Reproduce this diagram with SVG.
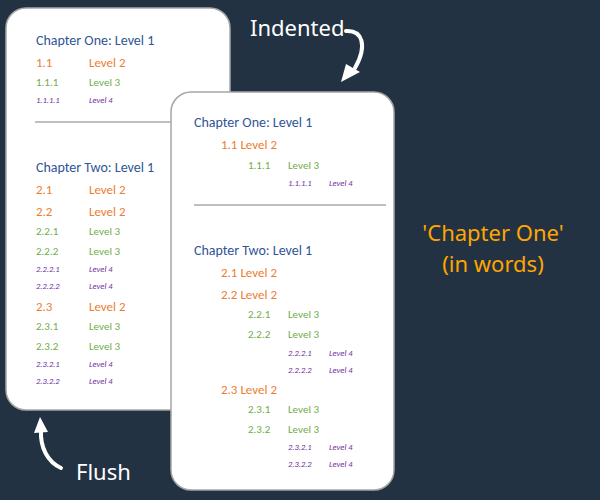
<svg xmlns="http://www.w3.org/2000/svg" width="600" height="500" viewBox="0 0 600 500">
<style>
text{font-family:Calibri,"Open Sans","Liberation Sans",sans-serif}
.b{fill:#2f5597;font-size:14px}
.o{fill:#ed7d31;font-size:13px}
.g{fill:#70ad47;font-size:11px}
.p{fill:#7030a0;font-size:8.5px;font-style:italic}
.card{fill:#fff;stroke:#a6a6a6;stroke-width:1.5}
.hw{fill:#fff;font-family:"Comic Sans MS","Noto Sans",sans-serif;font-size:22px}
.hy{fill:#ffa500;font-family:"Comic Sans MS","Noto Sans",sans-serif;font-size:22px}
.arr{fill:none;stroke:#fff;stroke-width:4;stroke-linecap:round}
</style>
<rect width="600" height="500" fill="#223243"/>
<g id="flush">
<rect class="card" x="6" y="8" width="224" height="402" rx="20"/>
<text class="b" x="36" y="45">Chapter One:   Level 1</text>
<text class="o" x="36" y="67">1.1</text><text class="o" x="89" y="67">Level 2</text>
<text class="g" x="36" y="86">1.1.1</text><text class="g" x="89" y="86">Level 3</text>
<text class="p" x="36" y="103">1.1.1.1</text><text class="p" x="89" y="103">Level 4</text>
<line x1="35" y1="122" x2="200" y2="122" stroke="#808080"/>
<text class="b" x="36" y="172">Chapter Two:   Level 1</text>
<text class="o" x="36" y="194">2.1</text><text class="o" x="89" y="194">Level 2</text>
<text class="o" x="36" y="216">2.2</text><text class="o" x="89" y="216">Level 2</text>
<text class="g" x="36" y="235">2.2.1</text><text class="g" x="89" y="235">Level 3</text>
<text class="g" x="36" y="255">2.2.2</text><text class="g" x="89" y="255">Level 3</text>
<text class="p" x="36" y="272">2.2.2.1</text><text class="p" x="89" y="272">Level 4</text>
<text class="p" x="36" y="289">2.2.2.2</text><text class="p" x="89" y="289">Level 4</text>
<text class="o" x="36" y="311">2.3</text><text class="o" x="89" y="311">Level 2</text>
<text class="g" x="36" y="330">2.3.1</text><text class="g" x="89" y="330">Level 3</text>
<text class="g" x="36" y="350">2.3.2</text><text class="g" x="89" y="350">Level 3</text>
<text class="p" x="36" y="367">2.3.2.1</text><text class="p" x="89" y="367">Level 4</text>
<text class="p" x="36" y="384">2.3.2.2</text><text class="p" x="89" y="384">Level 4</text>
</g>
<g id="indented">
<rect class="card" x="171" y="92" width="223" height="398" rx="20"/>
<text class="b" x="194" y="127">Chapter One:   Level 1</text>
<text class="o" x="221" y="149">1.1  Level 2</text>
<text class="g" x="248" y="169">1.1.1</text><text class="g" x="288" y="169">Level 3</text>
<text class="p" x="288" y="186">1.1.1.1</text><text class="p" x="329" y="186">Level 4</text>
<line x1="194" y1="205" x2="386" y2="205" stroke="#808080"/>
<text class="b" x="194" y="255">Chapter Two:   Level 1</text>
<text class="o" x="221" y="277">2.1  Level 2</text>
<text class="o" x="221" y="299">2.2  Level 2</text>
<text class="g" x="248" y="318">2.2.1</text><text class="g" x="288" y="318">Level 3</text>
<text class="g" x="248" y="338">2.2.2</text><text class="g" x="288" y="338">Level 3</text>
<text class="p" x="288" y="356">2.2.2.1</text><text class="p" x="329" y="356">Level 4</text>
<text class="p" x="288" y="373">2.2.2.2</text><text class="p" x="329" y="373">Level 4</text>
<text class="o" x="221" y="394">2.3  Level 2</text>
<text class="g" x="248" y="413">2.3.1</text><text class="g" x="288" y="413">Level 3</text>
<text class="g" x="248" y="433">2.3.2</text><text class="g" x="288" y="433">Level 3</text>
<text class="p" x="288" y="450">2.3.2.1</text><text class="p" x="329" y="450">Level 4</text>
<text class="p" x="288" y="467">2.3.2.2</text><text class="p" x="329" y="467">Level 4</text>
</g>
<g id="labels">
<text class="hw" x="250" y="36">Indented</text>
<text class="hw" x="76" y="480">Flush</text>
<text class="hy" x="493" y="241" text-anchor="middle">'Chapter One'</text>
<text class="hy" x="493" y="272" text-anchor="middle">(in words)</text>
</g>
<g id="connectors">
<path class="arr" d="M346 31 C362 30 368 45 355 68"/>
<path d="M341 82 L346 64 L360 72 Z" fill="#fff"/>
<path class="arr" d="M61 468 C48 462 40 448 41 430"/>
<path d="M34 433 L40 417 L48 432 Z" fill="#fff"/>
</g>
</svg>
